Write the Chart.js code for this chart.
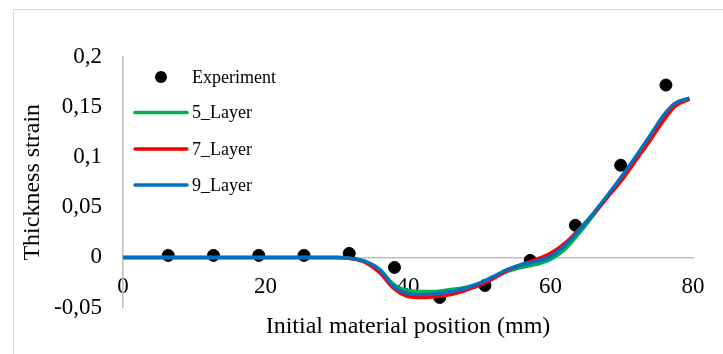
<!DOCTYPE html>
<html>
<head>
<meta charset="utf-8">
<script src="https://cdn.jsdelivr.net/npm/chart.js@4.4.1/dist/chart.umd.min.js"></script>
<style>
  html, body { margin: 0; padding: 0; background: #fff; }
  #wrap { width: 723px; height: 354px; }
</style>
</head>
<body>
<div id="wrap"><canvas id="chart"></canvas></div>
<script>
// Experiment points
const expX = [6.35, 12.7, 19.05, 25.4, 31.75, 38.1, 44.45, 50.8, 57.15, 63.5, 69.85, 76.2];
const expY = [0.002, 0.002, 0.002, 0.002, 0.004, -0.010, -0.040, -0.028, -0.003, 0.032, 0.092, 0.172];

// Simulation curves
const simX = [0, 5, 10, 15, 20, 25, 30, 32, 34, 36, 38, 40, 42, 44, 46, 48, 50, 52, 54, 56, 58, 60, 62, 64, 66, 68, 70, 72, 74, 76, 77.5, 79.5];
const layer5 = [0, 0, 0, 0, 0, 0, 0, -0.001, -0.004, -0.012, -0.027, -0.033, -0.034, -0.034, -0.032, -0.030, -0.026, -0.020, -0.014, -0.010, -0.007, -0.002, 0.008, 0.024, 0.042, 0.061, 0.080, 0.100, 0.120, 0.141, 0.153, 0.159];
const layer7 = [0, 0, 0, 0, 0, 0, 0, -0.001, -0.005, -0.015, -0.031, -0.039, -0.040, -0.039, -0.037, -0.033, -0.028, -0.021, -0.013, -0.007, -0.002, 0.004, 0.014, 0.028, 0.043, 0.060, 0.077, 0.097, 0.117, 0.138, 0.151, 0.158];
const layer9 = [0, 0, 0, 0, 0, 0, 0, -0.001, -0.004, -0.012, -0.029, -0.036, -0.037, -0.036, -0.034, -0.031, -0.026, -0.019, -0.012, -0.007, -0.004, 0.001, 0.012, 0.027, 0.044, 0.062, 0.081, 0.101, 0.122, 0.143, 0.154, 0.159];

const labels = ['Experiment', '5_Layer', '7_Layer', '9_Layer'];
const colors = ['#000000', '#00B050', '#FF0000', '#0070C0'];

const pts = (xs, ys) => xs.map((x, i) => ({ x: x, y: ys[i] }));
const serif = 'Liberation Serif';

function lineSet(idx, ys, order) {
    return {
        label: labels[idx],
        data: pts(simX, ys),
        showLine: true,
        borderColor: colors[idx],
        backgroundColor: colors[idx],
        borderWidth: 3.5,
        pointRadius: 0,
        cubicInterpolationMode: 'monotone',
        order: order
    };
}

// outer frame like the office chart border
const framePlugin = {
    id: 'frame',
    beforeDraw(chart) {
        const ctx = chart.ctx;
        ctx.save();
        ctx.fillStyle = '#fff';
        ctx.fillRect(0, 0, chart.width, chart.height);
        ctx.strokeStyle = '#d9d9d9';
        ctx.lineWidth = 1;
        ctx.strokeRect(13.5, 9.5, chart.width, chart.height);
        ctx.restore();
    }
};

// legend drawn inside the plot area, top-left
const innerLegend = {
    id: 'innerLegend',
    afterDraw(chart) {
        const ctx = chart.ctx;
        const rows = [77, 112.5, 149, 185];
        ctx.save();
        ctx.font = '18px "' + serif + '"';
        ctx.textBaseline = 'middle';
        ctx.textAlign = 'left';
        chart.data.datasets.forEach((ds, i) => {
            const y = rows[i];
            if (i === 0) {
                ctx.fillStyle = ds.backgroundColor;
                ctx.beginPath();
                ctx.arc(161, y, 6, 0, Math.PI * 2);
                ctx.fill();
            } else {
                ctx.strokeStyle = ds.borderColor;
                ctx.lineWidth = 3.5;
                ctx.lineCap = 'round';
                ctx.beginPath();
                ctx.moveTo(135, y);
                ctx.lineTo(187, y);
                ctx.stroke();
            }
            ctx.fillStyle = '#000';
            ctx.fillText(ds.label, 192, y + 1);
        });
        ctx.restore();
    }
};

new Chart(document.getElementById('chart'), {
    type: 'scatter',
    data: {
        datasets: [
            {
                label: labels[0],
                data: pts(expX, expY),
                showLine: false,
                backgroundColor: colors[0],
                borderColor: colors[0],
                pointRadius: 6,
                pointHoverRadius: 6,
                order: 3
            },
            lineSet(1, layer5, 2),
            lineSet(2, layer7, 1),
            lineSet(3, layer9, 0)
        ]
    },
    options: {
        responsive: true,
        maintainAspectRatio: false,
        animation: false,
        layout: { padding: { top: 57, right: 30, bottom: 12.9, left: 0 } },
        plugins: {
            legend: { display: false },
            tooltip: { enabled: false }
        },
        scales: {
            x: {
                type: 'linear',
                position: { y: 0 },
                min: 0,
                max: 80,
                grid: { display: false, drawTicks: false },
                border: { display: true, color: '#bfbfbf', width: 1.5 },
                ticks: {
                    stepSize: 20,
                    padding: 16,
                    color: '#000',
                    font: { family: serif, size: 23 }
                },
                afterFit(scale) { scale.height = 0; }
            },
            x2: {
                type: 'linear',
                position: 'bottom',
                axis: 'x',
                min: 0,
                max: 80,
                grid: { display: false, drawTicks: false },
                border: { display: false },
                ticks: { display: false },
                title: {
                    display: true,
                    text: 'Initial material position (mm)',
                    color: '#000',
                    font: { family: serif, size: 24 },
                    padding: { top: 4.8, bottom: 0 }
                }
            },
            y: {
                type: 'linear',
                position: 'left',
                min: -0.05,
                max: 0.2,
                grid: { display: false, drawTicks: false },
                border: { display: true, color: '#bfbfbf', width: 1.5 },
                ticks: {
                    stepSize: 0.05,
                    padding: 21,
                    color: '#000',
                    font: { family: serif, size: 23 },
                    callback: (v) => String(Math.round(v * 100) / 100).replace('.', ',')
                },
                title: {
                    display: true,
                    text: 'Thickness strain',
                    color: '#000',
                    font: { family: serif, size: 24 },
                    padding: { top: 18.6, bottom: 0 }
                },
                afterFit(scale) { scale.width = 123; }
            }
        }
    },
    plugins: [framePlugin, innerLegend]
});
</script>
</body>
</html>
